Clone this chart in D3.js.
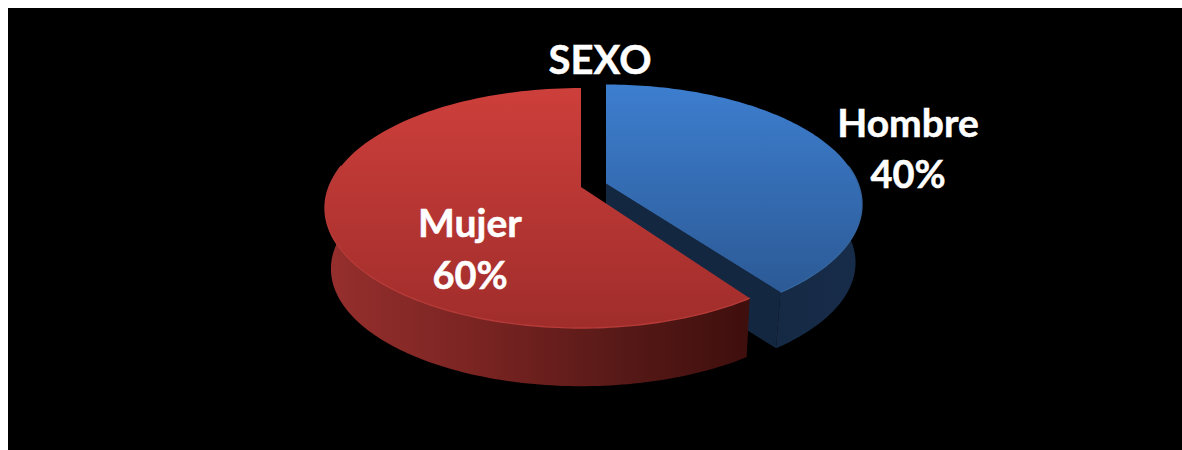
<!DOCTYPE html>
<html><head><meta charset="utf-8">
<script src="https://cdn.jsdelivr.net/npm/d3@7"></script>
<style>html,body{margin:0;padding:0;background:#fff;overflow:hidden}svg{display:block}text{font-family:Lato,"Open Sans",sans-serif;font-weight:700;fill:#fff;stroke:#fff;stroke-width:.5px}</style>
</head><body><svg id="c" width="1182" height="450"></svg>
<script>
const categories = ["Hombre", "Mujer"];
const shares = [40, 60];
const percentLabels = ["40%", "60%"];
const chartTitle = "SEXO";

(function () {
const svg = d3.select("#c");
const defs = svg.append("defs");
function grad(id, x1, y1, x2, y2, stops) {
  const g = defs.append("linearGradient").attr("id", id).attr("gradientUnits", "userSpaceOnUse")
    .attr("x1", x1).attr("y1", y1).attr("x2", x2).attr("y2", y2);
  stops.forEach(s => g.append("stop").attr("offset", s[0]).attr("stop-color", s[1]));
}
grad("topB", 0, 85, 0, 291, [[0, "#3d7ecf"], [1, "#2c5a96"]]);
grad("topR", 0, 88, 0, 328, [[0, "#cd3f3b"], [1, "#a02d2b"]]);
grad("wallR", 330, 0, 746, 0, [[0, "#952f2d"], [.35, "#7a2422"], [.7, "#571917"], [1, "#3f0f0d"]]);
grad("wallB", 610, 0, 855, 0, [[0, "#142741"], [.6, "#152943"], [1, "#172c49"]]);
const soft = defs.append("filter").attr("id", "soft");
soft.append("feGaussianBlur").attr("stdDeviation", 0.6);

svg.append("rect").attr("x", 8).attr("y", 8).attr("width", 1174).attr("height", 442).attr("fill", "#000");

// perspective projection of the pie disc, one extrusion per slice
const persp = 0.175, ax = 252, by = 116.3;
const anchors = [[606, 183.5], [581, 187]];
const extrude = [{vx: 605, vy: 2532, k: 0.975}, {vx: 605, vy: 3100, k: 0.979}];
const cutNudge = [-0.5 * Math.PI / 180, 1 * Math.PI / 180];
function project(anchor, t) {
  const u = Math.sin(t), v = Math.cos(t), w = 1 + persp * v;
  return [anchor[0] + ax * u / w, anchor[1] - by * v / w];
}
const dropper = e => p => [e.vx + (p[0] - e.vx) * e.k, e.vy + (p[1] - e.vy) * e.k];
const line = d3.line();
const arcs = d3.pie().sort(null)(shares);
const sample = (a, b) => d3.range(0, 121).map(i => a + (b - a) * i / 120);

function drawWall(t0, t1, anchor, fill, drop) {
  const front = sample(t0, t1).map(t => project(anchor, t));
  svg.append("path").attr("d", line(front.concat(front.map(drop).reverse())) + "Z").attr("fill", fill);
}
function drawFace(t0, t1, anchor, fill) {
  const rim = sample(t0, t1).map(t => project(anchor, t));
  svg.append("path").attr("d", line([anchor].concat(rim)) + "Z").attr("fill", fill);
}
function drawRim(t0, t1, anchor, col) {
  svg.append("path").attr("d", line(sample(t0, t1).map(t => project(anchor, t))))
    .attr("fill", "none").attr("stroke", col).attr("stroke-width", 1.4).attr("filter", "url(#soft)");
}

const hEnd = arcs[0].endAngle + cutNudge[0], mStart = arcs[1].startAngle + cutNudge[1];
const dropH = dropper(extrude[0]), dropM = dropper(extrude[1]);
const hCorner = project(anchors[0], hEnd);
svg.append("path").attr("d", line([anchors[0], hCorner, dropH(hCorner), dropH(anchors[0])]) + "Z").attr("fill", "#142741");
drawWall(Math.PI * 0.4, hEnd, anchors[0], "url(#wallB)", dropH);
drawFace(arcs[0].startAngle, hEnd, anchors[0], "url(#topB)");
drawRim(Math.PI * 0.45, hEnd, anchors[0], "#34659f");

drawWall(mStart, Math.PI * 1.56, anchors[1], "url(#wallR)", dropM);
drawFace(mStart, arcs[1].endAngle, anchors[1], "url(#topR)");
drawRim(mStart, Math.PI * 1.56, anchors[1], "#b63b38");

const labelPos = [[908, 137, 188], [470, 237, 289]];
categories.forEach((c, i) => {
  svg.append("text").attr("x", labelPos[i][0]).attr("y", labelPos[i][1]).attr("text-anchor", "middle").attr("font-size", 39).text(c);
  svg.append("text").attr("x", labelPos[i][0]).attr("y", labelPos[i][2]).attr("text-anchor", "middle").attr("font-size", 38).text(percentLabels[i]);
});
svg.append("text").attr("x", 600).attr("y", 73.5).attr("text-anchor", "middle").attr("font-size", 40).text(chartTitle);
})();
</script></body></html>
